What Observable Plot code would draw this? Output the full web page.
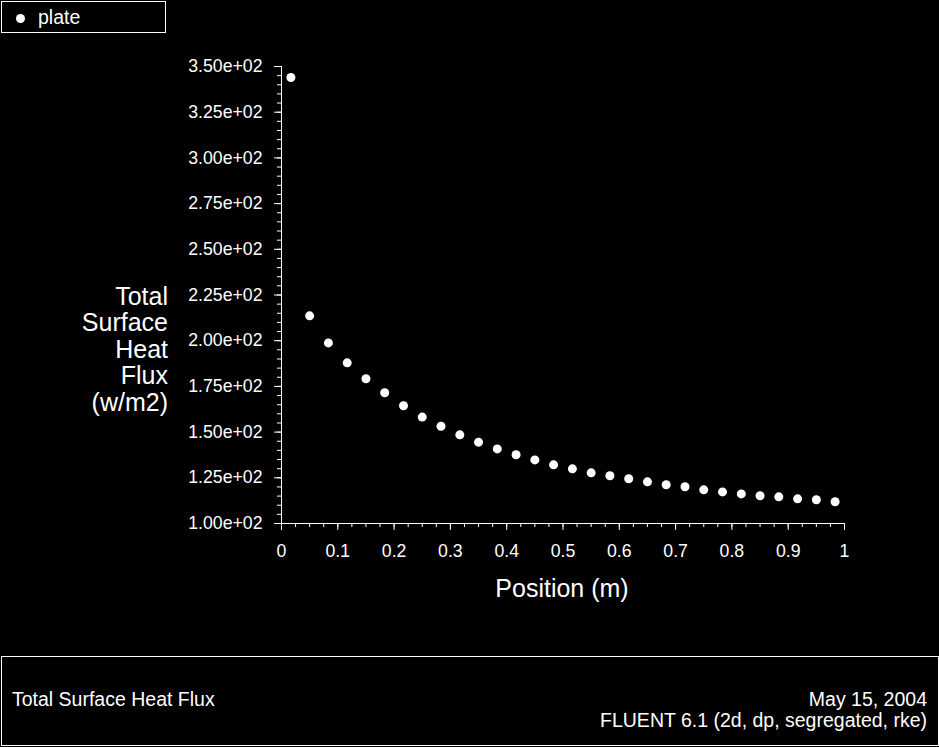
<!DOCTYPE html>
<html>
<head>
<meta charset="utf-8">
<script src="https://cdn.jsdelivr.net/npm/d3@7"></script>
<script src="https://cdn.jsdelivr.net/npm/@observablehq/plot@0.6"></script>
<style>
  html, body { margin: 0; padding: 0; background: #000; }
  body { width: 939px; height: 747px; overflow: hidden; font-family: "Liberation Sans", Arial, sans-serif; color: #fff; }
  #wrap { position: relative; width: 939px; height: 747px; }
  #chart { position: absolute; left: 0; top: 0; }
  .box { position: absolute; border: 1px solid #fff; box-sizing: border-box; }
  #legend { left: 1px; top: 1px; width: 165px; height: 32px; }
  #legend .dot { position: absolute; left: 13.5px; top: 12px; width: 9px; height: 9px; border-radius: 50%; background: #fff; }
  #legend .lbl { position: absolute; left: 36px; top: 3px; font-size: 19.5px; line-height: 24px; }
  #footer { left: 1px; top: 656px; width: 938px; height: 90px; }
  .ft { position: absolute; font-size: 19.5px; line-height: 22px; white-space: nowrap; }
  #ylabel { position: absolute; left: 0; top: 282.5px; width: 168px; text-align: right; font-size: 25px; line-height: 26.5px; }
  #xlabel { position: absolute; left: 362px; width: 400px; top: 574px; text-align: center; font-size: 25px; line-height: 28px; }
</style>
</head>
<body>
<div id="wrap">
  <div id="chart"></div>
  <div id="legend" class="box"><div class="dot"></div><div class="lbl"></div></div>
  <div id="ylabel"></div>
  <div id="xlabel"></div>
  <div id="footer" class="box">
    <div class="ft" id="ftLeft" style="left:10px; top:31px;"></div>
    <div class="ft" id="ftDate" style="right:11px; top:31px; text-align:right;"></div>
    <div class="ft" id="ftSolver" style="right:11px; top:52px; text-align:right;"></div>
  </div>
</div>
<script>
// ---- data ----
const seriesName = "plate";
const positions = [0.0167, 0.05, 0.0833, 0.1167, 0.15, 0.1833, 0.2167, 0.25, 0.2833, 0.3167,
                   0.35, 0.3833, 0.4167, 0.45, 0.4833, 0.5167, 0.55, 0.5833, 0.6167, 0.65,
                   0.6833, 0.7167, 0.75, 0.7833, 0.8167, 0.85, 0.8833, 0.9167, 0.95, 0.9833];
const heatFlux = [344.0, 213.6, 198.8, 187.9, 179.2, 171.5, 164.4, 158.2, 153.2, 148.5,
                  144.5, 140.8, 137.6, 134.8, 132.1, 129.9, 127.7, 126.1, 124.5, 122.8,
                  121.2, 120.1, 118.4, 117.3, 116.2, 115.2, 114.6, 113.5, 113.0, 111.9];
const xMajorTicks = [0, 0.1, 0.2, 0.3, 0.4, 0.5, 0.6, 0.7, 0.8, 0.9, 1];
const xTickLabels = ["0", "0.1", "0.2", "0.3", "0.4", "0.5", "0.6", "0.7", "0.8", "0.9", "1"];
const xMinorTicks = d3.range(0, 41).map(i => i * 0.025);
const yMajorTicks = [100, 125, 150, 175, 200, 225, 250, 275, 300, 325, 350];
const yTickLabels = ["1.00e+02", "1.25e+02", "1.50e+02", "1.75e+02", "2.00e+02", "2.25e+02",
                     "2.50e+02", "2.75e+02", "3.00e+02", "3.25e+02", "3.50e+02"];
const yMinorTicks = d3.range(100, 351, 5);
const yLabelText = "Total\nSurface\nHeat\nFlux\n(w/m2)";
const xLabelText = "Position (m)";
const footerTitle = "Total Surface Heat Flux";
const footerDate = "May 15, 2004";
const footerSolver = "FLUENT 6.1 (2d, dp, segregated, rke)";

const data = positions.map((x, i) => ({x, y: heatFlux[i]}));

const chart = Plot.plot({
  width: 939,
  height: 656,
  marginLeft: 281,
  marginRight: 95,
  marginTop: 66,
  marginBottom: 133,
  style: {background: "#000", color: "#fff", fontFamily: "Liberation Sans, Arial, sans-serif", fontSize: "17.7px"},
  x: {domain: [0, 1]},
  y: {domain: [100, 350]},
  marks: [
    Plot.axisX(xMinorTicks, {tickSize: 4, tickFormat: () => "", stroke: "#fff", label: null}),
    Plot.axisX(xMajorTicks, {tickSize: 7, tickPadding: 14, tickFormat: d => xTickLabels[xMajorTicks.indexOf(d)], stroke: "#fff", fill: "#fff", fontSize: 17.7, label: null}),
    Plot.axisY(yMinorTicks, {tickSize: 4, tickFormat: () => "", stroke: "#fff", label: null}),
    Plot.axisY(yMajorTicks, {tickSize: 7, tickPadding: 12, tickFormat: d => yTickLabels[yMajorTicks.indexOf(d)], stroke: "#fff", fill: "#fff", fontSize: 17.7, label: null}),
    Plot.ruleX([0], {stroke: "#fff", strokeWidth: 1}),
    Plot.ruleY([100], {stroke: "#fff", strokeWidth: 1}),
    Plot.dot(data, {x: "x", y: "y", r: 4.5, fill: "#fff", stroke: "none"})
  ]
});
document.getElementById("chart").appendChild(chart);

document.querySelector("#legend .lbl").textContent = seriesName;
document.getElementById("ylabel").innerHTML = yLabelText.split("\n").join("<br>");
document.getElementById("xlabel").textContent = xLabelText;
document.getElementById("ftLeft").textContent = footerTitle;
document.getElementById("ftDate").textContent = footerDate;
document.getElementById("ftSolver").textContent = footerSolver;
</script>
</body>
</html>
